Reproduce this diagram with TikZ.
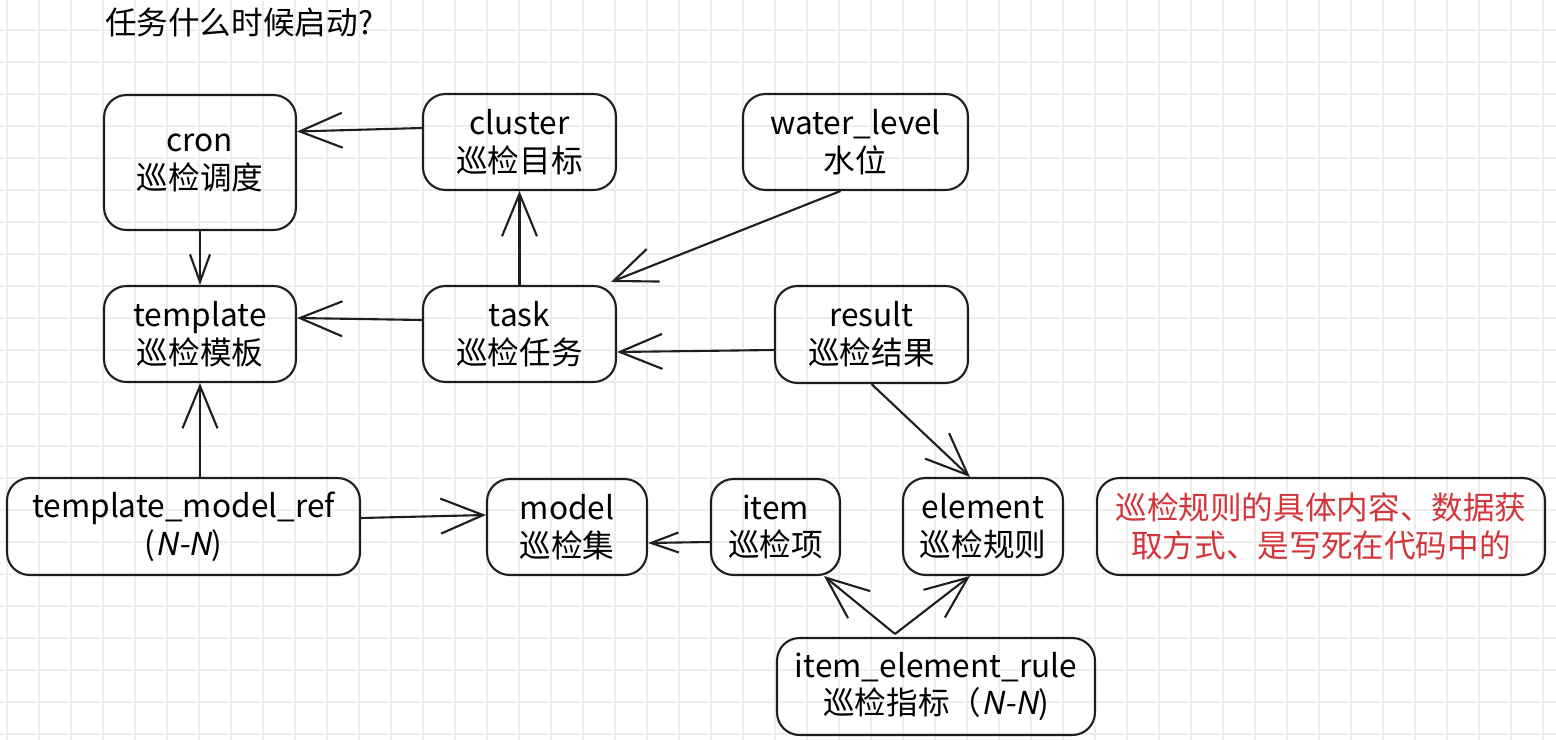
\documentclass[tikz,border=0pt]{standalone}
\usepackage{fontspec}
\usepackage{xcolor}
\usepackage{tikz}
\usetikzlibrary{arrows.meta}
\setmainfont{Noto Sans CJK SC}
\newfontfamily\cjkit[FakeSlant=0.2]{Noto Sans CJK SC}
\definecolor{gridgray}{HTML}{EDEDED}
\definecolor{notered}{HTML}{D2353A}
\definecolor{ink}{HTML}{1E1E1E}

\begin{document}
\begin{tikzpicture}[
  x=0.02cm, y=-0.02cm,
  line width=1.2pt,
  font=\fontsize{18}{21.6}\selectfont
]
\tikzset{
    tblnode/.style = {rectangle, rounded corners=0.45cm, draw=ink, align=center, inner sep=0pt, minimum width=3.84cm, minimum height=1.92cm},
    rel/.style = {draw=ink, -{Straight Barb[length=0.85cm,width=0.7cm]}},
    relshort/.style = {draw=ink, -{Straight Barb[length=0.55cm,width=0.4cm]}},
}
\useasboundingbox (0,0) rectangle (1556,740);
\foreach \gx in {7,39,...,1551} \draw[gridgray, line width=0.7pt] (\gx,0) -- (\gx,740);
\foreach \gy in {30,62,...,734} \draw[gridgray, line width=0.7pt] (0,\gy) -- (1556,\gy);

\node[anchor=west, inner sep=0pt] (question) at (104,22) {任务什么时候启动?};

\node[tblnode, minimum height=2.7cm] (cron) at (200,162.5) {cron\\巡检调度};
\node[tblnode, minimum width=3.86cm] (cluster) at (519.5,142) {cluster\\巡检目标};
\node[tblnode, minimum width=4.5cm] (waterlevel) at (855.5,142) {water\_level\\水位};
\node[tblnode] (template) at (200,334) {template\\巡检模板};
\node[tblnode, minimum width=3.86cm] (task) at (519.5,334) {task\\巡检任务};
\node[tblnode, minimum width=3.86cm, minimum height=1.94cm] (result) at (871.5,334.5) {result\\巡检结果};
\node[tblnode, minimum width=7.06cm, minimum height=1.94cm] (tmref) at (183.5,526.5) {template\_model\_ref\\({\cjkit N-N})};
\node[tblnode, minimum width=3.2cm] (model) at (567,527) {model\\巡检集};
\node[tblnode, minimum width=2.58cm] (item) at (775.5,527) {item\\巡检项};
\node[tblnode, minimum width=3.2cm, minimum height=1.94cm] (element) at (983,526.5) {element\\巡检规则};
\node[tblnode, minimum width=8.96cm, minimum height=1.94cm, text=notered] (note) at (1321,526.5) {巡检规则的具体内容、数据获\\取方式、是写死在代码中的};
\node[tblnode, minimum width=6.36cm, minimum height=1.94cm] (ierule) at (936,686.5) {item\_element\_rule\\巡检指标（{\cjkit N-N})};

\draw[rel] ([yshift=0.28cm]cluster.west) -- ([yshift=0.62cm]cron.east);
\draw[relshort] (cron.south) -- (template.north);
\draw[rel] (task.north) -- (cluster.south);
\draw[rel] ([yshift=0.28cm]task.west) -- ([yshift=0.32cm]template.east);
\draw[rel] ([xshift=-0.3cm]waterlevel.south) -- ([shift={(-0.12cm,0.06cm)}]task.north east);
\draw[rel] ([yshift=-0.31cm]result.west) -- ([yshift=-0.36cm]task.east);
\draw[rel] (result.south) -- ([xshift=-0.26cm]element.north);
\draw[rel] (tmref.north -| template.south) -- (template.south);
\draw[rel] ([yshift=0.17cm]tmref.east) -- ([yshift=0.24cm]model.west);
\draw[relshort] ([yshift=-0.3cm]item.west) -- ([yshift=-0.32cm]model.east);
\coordinate (fork) at ([shift={(-0.82cm,0.06cm)}]ierule.north);
\draw[rel] (fork) -- ([xshift=-0.34cm]item.south east);
\draw[rel] (fork) -- ([xshift=-0.26cm]element.south);
\end{tikzpicture}
\end{document}
